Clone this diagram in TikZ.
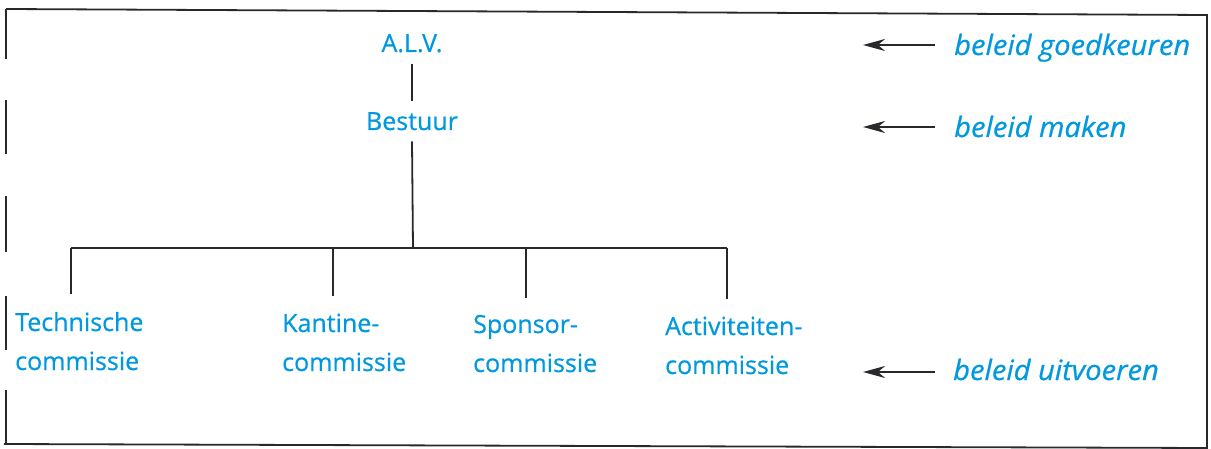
\documentclass[tikz,border=0pt]{standalone}
\usepackage{fontspec}
\setmainfont{Open Sans}[FakeBold=0.6]
\newfontfamily\rolefont{Open Sans}[FakeStretch=1.04,FakeBold=0.6]
\usetikzlibrary{arrows.meta}
\definecolor{txtblue}{RGB}{0,152,222}
\definecolor{linegray}{RGB}{40,40,45}
\begin{document}
\begin{tikzpicture}[x=1pt,y=-1pt,
  lbl/.style={text=txtblue, font=\fontsize{25}{39}\selectfont},
  top/.style={lbl, inner sep=11pt, anchor=base},
  child/.style={lbl, inner sep=0pt, anchor=base west},
  role/.style={text=txtblue, font=\rolefont\fontsize{28}{32}\selectfont\itshape, anchor=base west, inner sep=0pt},
  conn/.style={draw=linegray, line width=1.8pt},
  pointer/.style={draw=linegray, line width=1.8pt, -{Stealth[length=22pt,width=12pt,inset=7pt]}},
  frame/.style={draw=linegray, line width=1.8pt}]
\useasboundingbox (0,0) rectangle (1211,449);
% frame (scanned, left edge broken)
\draw[frame] (6,9) -- (1207,15) -- (1207,449);
\draw[frame] (4,444) -- (1207,448);
\draw[frame] (6,9) -- (6,59) (6,100) -- (6,154) (6,196) -- (6,252) (6,296) -- (6,350) (6,390) -- (6,444);
% nodes
\node[top] (alv) at (412,52) {A.L.V.};
\node[top] (bestuur) at (412,130) {Bestuur};
\node[child] (tech) at (15,331) {\begin{tabular}[t]{@{}l@{}}Technische\\commissie\end{tabular}};
\node[child] (kant) at (282,332) {\begin{tabular}[t]{@{}l@{}}Kantine-\\commissie\end{tabular}};
\node[child] (spon) at (473,333) {\begin{tabular}[t]{@{}l@{}}Sponsor-\\commissie\end{tabular}};
\node[child] (acti) at (665,335) {\begin{tabular}[t]{@{}l@{}}Activiteiten-\\commissie\end{tabular}};
% tree connectors
\coordinate (hub) at (413,248);
\coordinate (b1) at (71,248);
\coordinate (b2) at (333,248);
\coordinate (b3) at (526,248);
\coordinate (b4) at (727,248);
\coordinate (t1) at (71,294);
\coordinate (t2) at (333,296);
\coordinate (t3) at (526,298);
\coordinate (t4) at (727,299);
\draw[conn] (alv.south) -- (bestuur.north);
\draw[conn] (bestuur.south) -- (hub);
\draw[conn] (b1) -- (b4);
\draw[conn] (b1) -- (t1);
\draw[conn] (b2) -- (t2);
\draw[conn] (b3) -- (t3);
\draw[conn] (b4) -- (t4);
% roles
\node[role] (r1) at (954,55) {beleid goedkeuren};
\node[role] (r2) at (954,137) {beleid maken};
\node[role] (r3) at (953,380) {beleid uitvoeren};
\coordinate (a1) at (863,45);
\coordinate (a2) at (863,127);
\coordinate (a3) at (863,372);
\draw[pointer, shorten <=19pt] (r1.west |- a1) -- (a1);
\draw[pointer, shorten <=19pt] (r2.west |- a2) -- (a2);
\draw[pointer, shorten <=18pt] (r3.west |- a3) -- (a3);
\end{tikzpicture}
\end{document}
